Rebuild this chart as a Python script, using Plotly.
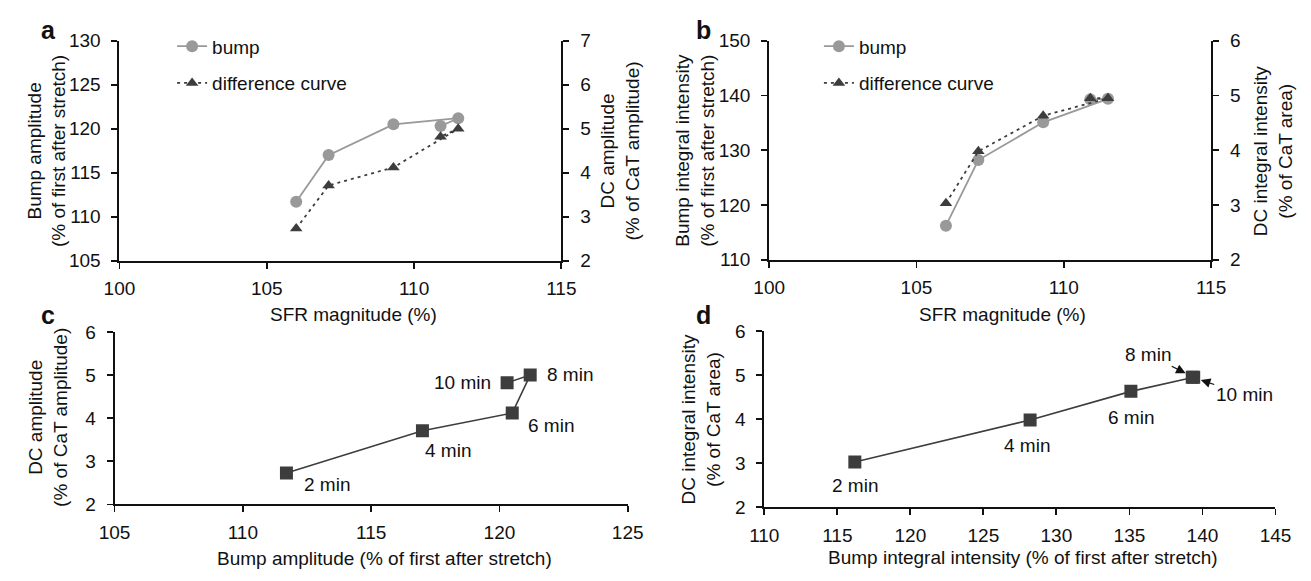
import plotly.graph_objects as go

# ---- data ----
time_labels = ["2 min", "4 min", "6 min", "8 min", "10 min"]
sfr_magnitude = [106.0, 107.1, 109.3, 111.5, 110.9]
bump_amplitude = [111.7, 117.0, 120.5, 121.2, 120.3]
dc_amplitude = [2.73, 3.71, 4.12, 5.0, 4.82]
bump_integral = [116.2, 128.2, 135.1, 139.4, 139.3]
dc_integral = [3.03, 3.98, 4.63, 4.95, 4.95]

W, H = 1311, 581
FONT = "Liberation Sans, Arial, sans-serif"
FS = 19
GRAY = "#999999"
DARK = "#3d3d3d"
TXT = "#111111"


def px(x):
    return x / W


def py(y):
    return 1 - y / H


fig = go.Figure()

# panel a
fig.add_trace(go.Scatter(x=sfr_magnitude, y=bump_amplitude, mode="lines+markers", name="bump",
                         line=dict(color=GRAY, width=1.8),
                         marker=dict(symbol="circle", size=12, color=GRAY),
                         xaxis="x", yaxis="y", legend="legend", legendgroup="a1"))
fig.add_trace(go.Scatter(x=sfr_magnitude, y=dc_amplitude, mode="lines+markers", name="difference curve",
                         line=dict(color=DARK, width=1.8, dash="3px,4px"),
                         marker=dict(symbol="triangle-up", size=11, color=DARK),
                         xaxis="x", yaxis="y2", legend="legend", legendgroup="a2"))
# panel b
fig.add_trace(go.Scatter(x=sfr_magnitude, y=bump_integral, mode="lines+markers", name="bump",
                         line=dict(color=GRAY, width=1.8),
                         marker=dict(symbol="circle", size=12, color=GRAY),
                         xaxis="x2", yaxis="y3", legend="legend2", legendgroup="b1"))
fig.add_trace(go.Scatter(x=sfr_magnitude, y=dc_integral, mode="lines+markers", name="difference curve",
                         line=dict(color=DARK, width=1.8, dash="3px,4px"),
                         marker=dict(symbol="triangle-up", size=11, color=DARK),
                         xaxis="x2", yaxis="y4", legend="legend2", legendgroup="b2"))
# panel c
fig.add_trace(go.Scatter(x=bump_amplitude, y=dc_amplitude, mode="lines+markers", showlegend=False,
                         line=dict(color=DARK, width=1.6),
                         marker=dict(symbol="square", size=13, color=DARK),
                         xaxis="x3", yaxis="y5"))
# panel d
fig.add_trace(go.Scatter(x=bump_integral, y=dc_integral, mode="lines+markers", showlegend=False,
                         line=dict(color=DARK, width=1.6),
                         marker=dict(symbol="square", size=13, color=DARK),
                         xaxis="x4", yaxis="y6"))

axis_common = dict(showline=True, linecolor="#111", linewidth=2, ticks="outside", ticklen=6,
                   tickwidth=1.8, tickcolor="#111", showgrid=False, zeroline=False,
                   tickfont=dict(family=FONT, size=FS, color=TXT), fixedrange=True)
xax = dict(axis_common, ticklabelstandoff=4)
yax = dict(axis_common, ticklabelstandoff=7)

# domains
dom_a_x = [px(106), px(559)]
dom_a_y = [py(260), py(32)]
dom_b_x = [px(772), px(1225)]
dom_b_y = [py(259), py(32)]
dom_c_x = [px(101), px(627)]
dom_c_y = [py(513), py(334)]
dom_d_x = [px(767), px(1291)]
dom_d_y = [py(516), py(333)]

fig.update_layout(
    width=W, height=H, margin=dict(l=0, r=0, t=0, b=0),
    paper_bgcolor="white", plot_bgcolor="white",
    font=dict(family=FONT, size=FS, color=TXT),
    hovermode=False,
    xaxis=dict(xax, domain=dom_a_x, range=[100, 115], dtick=5, tick0=100, anchor="y"),
    yaxis=dict(yax, domain=dom_a_y, range=[105, 130], dtick=5, tick0=105, anchor="x"),
    yaxis2=dict(yax, range=[2, 7], dtick=1, tick0=2, overlaying="y", side="right", anchor="x"),
    xaxis2=dict(xax, domain=dom_b_x, range=[100, 115], dtick=5, tick0=100, anchor="y3"),
    yaxis3=dict(yax, domain=dom_b_y, range=[110, 150], dtick=10, tick0=110, anchor="x2"),
    yaxis4=dict(yax, range=[2, 6], dtick=1, tick0=2, overlaying="y3", side="right", anchor="x2"),
    xaxis3=dict(xax, domain=dom_c_x, range=[105, 125], dtick=5, tick0=105, anchor="y5"),
    yaxis5=dict(yax, domain=dom_c_y, range=[2, 6], dtick=1, tick0=2, anchor="x3"),
    xaxis4=dict(xax, domain=dom_d_x, range=[110, 145], dtick=5, tick0=110, anchor="y6"),
    yaxis6=dict(yax, domain=dom_d_y, range=[2, 6], dtick=1, tick0=2, anchor="x4"),
    legend=dict(x=px(160), y=py(18), xanchor="left", yanchor="top", bgcolor="rgba(0,0,0,0)",
                font=dict(family=FONT, size=FS, color=TXT), traceorder="grouped", tracegroupgap=9),
    legend2=dict(x=px(823), y=py(18), xanchor="left", yanchor="top", bgcolor="rgba(0,0,0,0)",
                 font=dict(family=FONT, size=FS, color=TXT), traceorder="grouped", tracegroupgap=9),
)

ann = []


def paper_text(text, x, y, angle=0, size=FS, bold=False):
    if bold:
        text = "<b>" + text + "</b>"
    ann.append(dict(text=text, x=px(x), y=py(y), xref="paper", yref="paper", showarrow=False,
                    textangle=angle, xanchor="center", yanchor="middle",
                    font=dict(family=FONT, size=size, color=TXT)))


# panel letters
paper_text("a", 33, 21, size=25, bold=True)
paper_text("b", 705, 21, size=25, bold=True)
paper_text("c", 33, 316, size=25, bold=True)
paper_text("d", 705, 316, size=25, bold=True)

# axis titles
paper_text("Bump amplitude<br>(% of first after stretch)", 31, 146, angle=-90)
paper_text("DC amplitude<br>(% of CaT amplitude)", 619, 146, angle=-90)
paper_text("SFR magnitude (%)", 346, 316)
paper_text("Bump integral intensity<br>(% of first after stretch)", 696, 146, angle=-90)
paper_text("DC integral intensity<br>(% of CaT area)", 1288, 146, angle=-90)
paper_text("SFR magnitude (%)", 1011, 316)
paper_text("DC amplitude<br>(% of CaT amplitude)", 33, 423, angle=-90)
paper_text("Bump amplitude (% of first after stretch)", 378, 569)
paper_text("DC integral intensity<br>(% of CaT area)", 702, 424, angle=-90)
paper_text("Bump integral intensity (% of first after stretch)", 1032, 568)

# point labels, panel c
c_shifts = [(41, -12), (26, -20), (39, -12), (40, 1), (-45, 0)]
for lab, xv, yv, (dx, dy) in zip(time_labels, bump_amplitude, dc_amplitude, c_shifts):
    ann.append(dict(text=lab, x=xv, y=yv, xref="x3", yref="y5", showarrow=False,
                    xshift=dx, yshift=dy, xanchor="center", yanchor="middle",
                    font=dict(family=FONT, size=FS, color=TXT)))

# point labels, panel d
d_shifts = [(0, -24), (-3, -25), (0, -26)]
for i, (dx, dy) in enumerate(d_shifts):
    ann.append(dict(text=time_labels[i], x=bump_integral[i], y=dc_integral[i], xref="x4", yref="y6",
                    showarrow=False, xshift=dx, yshift=dy, xanchor="center", yanchor="middle",
                    font=dict(family=FONT, size=FS, color=TXT)))
# 8 and 10 min with arrows
ann.append(dict(text=time_labels[3], x=bump_integral[3], y=dc_integral[3], xref="x4", yref="y6",
                showarrow=True, ax=-46, ay=-23, arrowhead=2, arrowsize=1.6, arrowwidth=1.2,
                arrowcolor="#111", standoff=9, font=dict(family=FONT, size=FS, color=TXT)))
ann.append(dict(text=time_labels[4], x=bump_integral[4], y=dc_integral[4], xref="x4", yref="y6",
                showarrow=True, ax=52, ay=17, arrowhead=2, arrowsize=1.6, arrowwidth=1.2,
                arrowcolor="#111", standoff=9, font=dict(family=FONT, size=FS, color=TXT)))

fig.update_layout(annotations=ann)

fig.write_html("out.html",
               config={"displayModeBar": False, "staticPlot": True},
               post_script="document.body.style.margin='0px';document.body.style.overflow='hidden';")
